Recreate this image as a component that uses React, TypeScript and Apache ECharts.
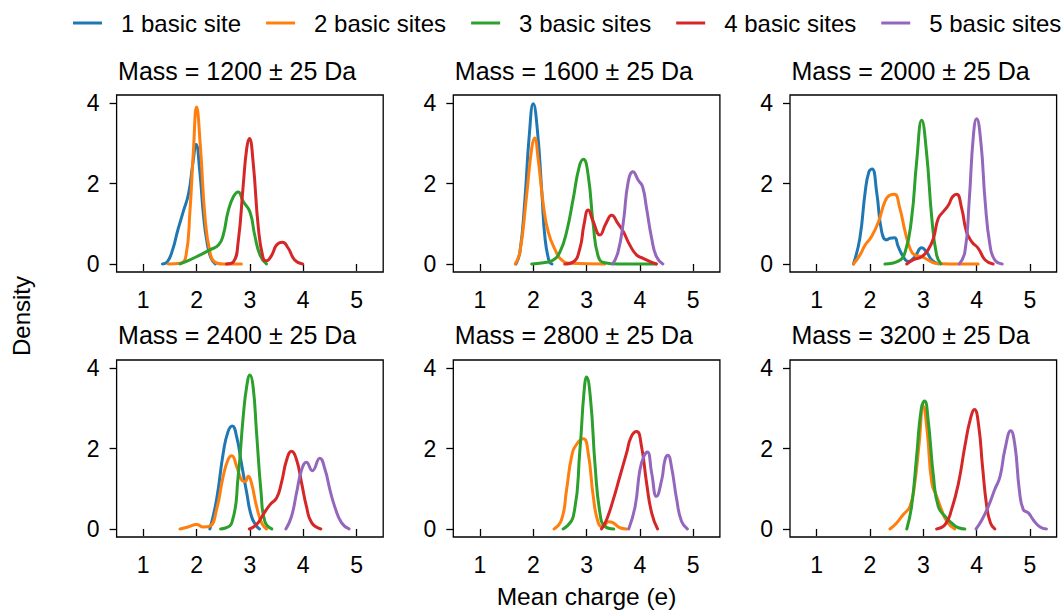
import React, { useEffect, useRef } from 'react';
import * as echarts from 'echarts';

const seriesNames = ['1 basic site', '2 basic sites', '3 basic sites', '4 basic sites', '5 basic sites'];
const seriesColors = ['#1f77b4', '#ff7f0e', '#2ca02c', '#d62728', '#9467bd'];
const panelTitles = [
  'Mass = 1200 ± 25 Da', 'Mass = 1600 ± 25 Da', 'Mass = 2000 ± 25 Da',
  'Mass = 2400 ± 25 Da', 'Mass = 2800 ± 25 Da', 'Mass = 3200 ± 25 Da',
];
const xTicks = [1, 2, 3, 4, 5];
const yTicks = [0, 2, 4];
const xLabel = 'Mean charge (e)';
const yLabel = 'Density';

// Mass 1200
const m1200_s1 = [[1.36,0],[1.45,0.05],[1.55,0.35],[1.65,0.85],[1.75,1.3],[1.85,1.75],[1.93,2.5],[1.99,2.97],[2.06,2.3],[2.13,1.2],[2.2,0.5],[2.27,0.15],[2.35,0]];
const m1200_s2 = [[1.47,0],[1.7,0.02],[1.8,0.2],[1.875,1.3],[1.94,2.8],[2.0,3.9],[2.07,2.95],[2.16,1.13],[2.25,0.3],[2.34,0.05],[2.5,0],[2.84,0]];
const m1200_s3 = [[1.69,0],[1.875,0.1],[2.06,0.22],[2.25,0.35],[2.41,0.47],[2.5,0.72],[2.59,1.3],[2.69,1.67],[2.78,1.79],[2.875,1.55],[3.0,1.3],[3.09,0.72],[3.19,0.22],[3.31,0]];
const m1200_s4 = [[2.56,0],[2.69,0.05],[2.78,0.55],[2.875,1.96],[2.94,2.87],[2.99,3.12],[3.06,2.54],[3.16,0.88],[3.25,0.14],[3.31,0.08],[3.41,0.22],[3.5,0.47],[3.61,0.54],[3.72,0.39],[3.84,0.1],[3.99,0]];

// Mass 1600
const m1600_s1 = [[1.675,0],[1.75,0.3],[1.84,1.55],[1.925,3.2],[2.0,3.98],[2.075,3.36],[2.16,1.79],[2.22,0.64],[2.3,0.05],[2.35,0]];
const m1600_s2 = [[1.66,0],[1.75,0.3],[1.875,1.7],[1.97,2.87],[2.025,3.13],[2.09,2.62],[2.19,1.46],[2.28,0.8],[2.41,0.35],[2.53,0.1],[2.69,0.02],[3.34,0]];
const m1600_s3 = [[1.97,0],[2.19,0.03],[2.375,0.1],[2.5,0.3],[2.625,0.8],[2.75,1.63],[2.86,2.41],[2.94,2.6],[3.03,2.2],[3.125,0.97],[3.22,0.18],[3.34,0.03],[3.6,0],[4.3,0]];
const m1600_s4 = [[2.59,0],[2.75,0.05],[2.875,0.39],[2.95,0.97],[3.03,1.34],[3.125,1.05],[3.25,0.72],[3.36,1.0],[3.47,1.21],[3.59,1.0],[3.69,0.8],[3.81,0.47],[3.94,0.22],[4.06,0.14],[4.19,0.06],[4.31,0]];
const m1600_s5 = [[3.49,0],[3.59,0.3],[3.69,1.05],[3.78,2.04],[3.87,2.29],[3.97,2.08],[4.05,1.92],[4.125,1.38],[4.22,0.64],[4.31,0.18],[4.43,0]];

// Mass 2000
const m2000_s1 = [[1.69,0],[1.81,0.64],[1.91,1.79],[1.98,2.29],[2.04,2.36],[2.125,1.79],[2.22,0.8],[2.31,0.6],[2.375,0.64],[2.46,0.65],[2.53,0.43],[2.625,0.18],[2.72,0.06],[2.84,0.18],[2.97,0.4],[3.06,0.3],[3.16,0.1],[3.28,0]];
const m2000_s2 = [[1.69,0],[1.81,0.22],[1.91,0.47],[2.03,0.68],[2.16,1.05],[2.28,1.55],[2.375,1.71],[2.46,1.73],[2.56,1.38],[2.66,0.8],[2.75,0.39],[2.84,0.22],[2.97,0.18],[3.09,0.1],[3.22,0.02],[3.5,0],[4.03,0]];
const m2000_s3 = [[2.28,0],[2.53,0.07],[2.66,0.3],[2.78,1.13],[2.875,2.54],[2.97,3.57],[3.06,2.78],[3.16,1.13],[3.25,0.22],[3.33,0]];
const m2000_s4 = [[2.69,0],[2.81,0.1],[2.97,0.18],[3.09,0.35],[3.19,0.64],[3.28,1.13],[3.375,1.3],[3.47,1.46],[3.55,1.67],[3.625,1.73],[3.72,1.38],[3.81,0.8],[3.91,0.55],[4.03,0.39],[4.16,0.1],[4.31,0]];
const m2000_s5 = [[3.675,0],[3.78,0.3],[3.86,1.55],[3.94,3.2],[4.0,3.61],[4.08,3.02],[4.16,1.55],[4.25,0.47],[4.34,0.1],[4.48,0]];

// Mass 2400
const m2400_s1 = [[2.25,0],[2.375,0.73],[2.5,1.89],[2.59,2.42],[2.67,2.56],[2.75,2.3],[2.84,1.64],[2.94,0.9],[3.03,0.31],[3.125,0.07],[3.18,0]];
const m2400_s2 = [[1.69,0],[1.84,0.05],[2.0,0.11],[2.125,0.05],[2.25,0.07],[2.375,0.48],[2.5,1.31],[2.59,1.72],[2.66,1.82],[2.75,1.56],[2.84,1.23],[2.91,1.18],[2.97,1.31],[3.03,1.14],[3.125,0.56],[3.22,0.15],[3.31,0]];
const m2400_s3 = [[2.45,0],[2.66,0.15],[2.78,1.31],[2.875,2.8],[2.94,3.54],[3.0,3.83],[3.06,3.54],[3.125,2.39],[3.21,0.9],[3.28,0.19],[3.41,0]];
const m2400_s4 = [[2.99,0],[3.125,0.11],[3.25,0.36],[3.375,0.6],[3.5,0.77],[3.59,1.14],[3.69,1.72],[3.78,1.93],[3.875,1.72],[3.97,1.14],[4.06,0.56],[4.16,0.15],[4.33,0]];
const m2400_s5 = [[3.675,0],[3.78,0.31],[3.875,0.9],[3.97,1.47],[4.06,1.66],[4.17,1.45],[4.31,1.76],[4.41,1.47],[4.5,0.98],[4.59,0.56],[4.72,0.15],[4.86,0]];

// Mass 2800
const m2800_s2 = [[2.39,0],[2.53,0.23],[2.625,0.98],[2.72,1.81],[2.81,2.1],[2.94,2.24],[3.03,1.89],[3.125,0.81],[3.22,0.15],[3.31,0.05],[3.41,0.18],[3.5,0.15],[3.625,0.03],[3.75,0]];
const m2800_s3 = [[2.56,0],[2.75,0.31],[2.875,1.97],[2.95,3.38],[3.0,3.78],[3.075,3.21],[3.16,1.56],[3.25,0.4],[3.34,0.07],[3.51,0]];
const m2800_s4 = [[3.28,0],[3.375,0.23],[3.5,0.73],[3.625,1.31],[3.75,1.89],[3.84,2.3],[3.94,2.42],[4.03,2.05],[4.125,1.14],[4.22,0.4],[4.33,0]];
const m2800_s5 = [[3.79,0],[3.91,0.56],[4.0,1.47],[4.075,1.81],[4.14,1.91],[4.22,1.39],[4.31,0.81],[4.41,1.23],[4.47,1.72],[4.525,1.83],[4.59,1.56],[4.69,0.73],[4.78,0.19],[4.89,0]];

// Mass 3200
const m3200_s2 = [[2.375,0],[2.5,0.15],[2.625,0.36],[2.75,0.56],[2.84,1.14],[2.92,2.1],[3.0,3.05],[3.075,2.4],[3.16,1.14],[3.25,0.81],[3.34,0.48],[3.44,0.19],[3.59,0]];
const m3200_s3 = [[2.69,0],[2.78,0.56],[2.875,1.81],[2.96,2.97],[3.025,3.18],[3.09,2.72],[3.19,1.31],[3.28,0.56],[3.41,0.31],[3.53,0.15],[3.66,0.03],[3.78,0]];
const m3200_s4 = [[3.25,0],[3.41,0.11],[3.53,0.48],[3.66,1.14],[3.78,2.06],[3.88,2.72],[3.96,2.97],[4.04,2.55],[4.11,1.56],[4.19,0.56],[4.26,0.15],[4.34,0]];
const m3200_s5 = [[3.99,0],[4.1,0.23],[4.22,0.56],[4.34,0.98],[4.44,1.31],[4.53,1.97],[4.64,2.44],[4.72,2.06],[4.8,0.98],[4.875,0.48],[4.97,0.4],[5.06,0.23],[5.19,0.05],[5.31,0]];

const panels = [
  [m1200_s1, m1200_s2, m1200_s3, m1200_s4, null],
  [m1600_s1, m1600_s2, m1600_s3, m1600_s4, m1600_s5],
  [m2000_s1, m2000_s2, m2000_s3, m2000_s4, m2000_s5],
  [m2400_s1, m2400_s2, m2400_s3, m2400_s4, m2400_s5],
  [null, m2800_s2, m2800_s3, m2800_s4, m2800_s5],
  [null, m3200_s2, m3200_s3, m3200_s4, m3200_s5],
];

const FONT = '"Liberation Sans", Arial, Helvetica, sans-serif';

export default function App() {
  const ref = useRef<HTMLDivElement>(null);
  useEffect(() => {
    if (!ref.current) return;
    const chart = echarts.init(ref.current, undefined, { renderer: 'svg' });
    const lefts = [116.6, 453.3, 790];
    const tops = [95, 360];
    const W = 266.6;
    const H = 177;
    const titleY = [70.5, 335.3];
    const grids: any[] = [];
    const xAxes: any[] = [];
    const yAxes: any[] = [];
    const series: any[] = [];
    const graphics: any[] = [];
    panels.forEach((panel, p) => {
      const col = p % 3;
      const row = Math.floor(p / 3);
      grids.push({
        left: lefts[col], top: tops[row], width: W, height: H,
        show: true, borderColor: '#000', borderWidth: 1.3, backgroundColor: 'transparent',
      });
      xAxes.push({
        type: 'value', gridIndex: p, min: 0.5, max: 5.5,
        axisLine: { show: false },
        axisTick: { show: true, inside: false, length: 7, lineStyle: { color: '#000', width: 1.3 }, customValues: xTicks },
        axisLabel: { show: true, margin: 16, color: '#000', fontSize: 23, fontFamily: FONT, customValues: xTicks },
        splitLine: { show: false },
      });
      yAxes.push({
        type: 'value', gridIndex: p, min: -0.2, max: 4.2,
        axisLine: { show: false },
        axisTick: { show: true, inside: false, length: 7, lineStyle: { color: '#000', width: 1.3 }, customValues: yTicks },
        axisLabel: { show: true, margin: 17, color: '#000', fontSize: 23, fontFamily: FONT, customValues: yTicks },
        splitLine: { show: false },
      });
      panel.forEach((data, s) => {
        if (!data) return;
        series.push({
          type: 'line', name: seriesNames[s], xAxisIndex: p, yAxisIndex: p,
          data, showSymbol: false, symbol: 'none', smooth: 0.5,
          color: seriesColors[s],
          lineStyle: { color: seriesColors[s], width: 3, join: 'round', cap: 'round' },
          z: 2 + s,
        });
      });
      graphics.push({
        type: 'text', x: lefts[col] + 1.5, y: titleY[row],
        style: { text: panelTitles[p], fill: '#000', font: `25px ${FONT}`, textAlign: 'left', textVerticalAlign: 'middle' },
      });
    });
    graphics.push({
      type: 'text', x: 21, y: 316, rotation: Math.PI / 2,
      style: { text: yLabel, fill: '#000', font: `24px ${FONT}`, textAlign: 'center', textVerticalAlign: 'middle' },
    });
    graphics.push({
      type: 'text', x: 586.5, y: 596,
      style: { text: xLabel, fill: '#000', font: `24.5px ${FONT}`, textAlign: 'center', textVerticalAlign: 'middle' },
    });
    chart.setOption({
      animation: false,
      backgroundColor: '#fff',
      legend: {
        data: seriesNames, left: 73, top: 11, width: 1000, padding: 0,
        icon: 'rect', itemWidth: 29, itemHeight: 3, itemGap: 25,
        textStyle: { fontSize: 24, fontFamily: FONT, color: '#000', lineHeight: 24, padding: [0, 0, 0, 14] },
      },
      grid: grids, xAxis: xAxes, yAxis: yAxes, series, graphic: graphics,
    });
    return () => chart.dispose();
  }, []);
  return <div ref={ref} style={{ position: 'absolute', left: 0, top: 0, width: 1063, height: 610 }} />;
}
